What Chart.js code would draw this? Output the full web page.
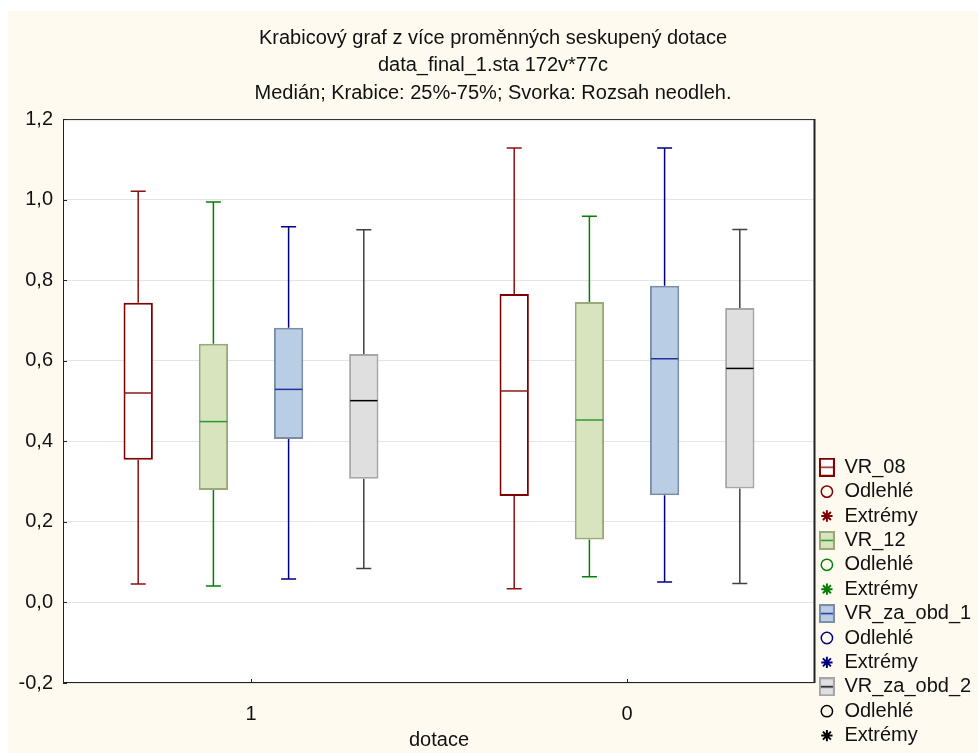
<!DOCTYPE html>
<html>
<head>
<meta charset="utf-8">
<script src="https://cdn.jsdelivr.net/npm/chart.js@4.4.1/dist/chart.umd.min.js"></script>
<style>
  html, body { margin: 0; padding: 0; background: #fff; }
  #wrap { width: 978px; height: 753px; }
</style>
</head>
<body>
<div id="wrap"><canvas id="chart" width="978" height="753"></canvas></div>
<script>
const groups = ['1', '0'];
const seriesNames = ['VR_08', 'VR_12', 'VR_za_obd_1', 'VR_za_obd_2'];
// per group: [min, q1, median, q3, max]
const vr08 = [[0.046, 0.354, 0.520, 0.744, 1.021], [0.034, 0.264, 0.525, 0.766, 1.128]];
const vr12 = [[0.041, 0.279, 0.449, 0.642, 0.994], [0.064, 0.156, 0.453, 0.746, 0.959]];
const vrObd1 = [[0.058, 0.406, 0.529, 0.682, 0.933], [0.051, 0.266, 0.605, 0.786, 1.128]];
const vrObd2 = [[0.084, 0.307, 0.501, 0.617, 0.925], [0.047, 0.283, 0.581, 0.731, 0.926]];
const yTicks = [-0.2, 0, 0.2, 0.4, 0.6, 0.8, 1.0, 1.2];
const outlierLabel = 'Odlehlé';
const extremeLabel = 'Extrémy';

const FONT = "'Liberation Sans', Arial, sans-serif";
const boxFill = ['#ffffff', '#d7e4bd', '#b9cde5', '#dfdfdf'];
const boxLine = ['#800000', '#9aa97c', '#7b8ca6', '#a6a6a6'];
const medianLine = ['#8b1a1a', '#2e9a2e', '#27329a', '#000000'];
const whiskerLine = ['#8b1010', '#008000', '#000080', '#404040'];
const markColor = ['#800000', '#008000', '#000080', '#000000'];

const allStats = [vr08, vr12, vrObd1, vrObd2];

// small box icon for the legend
function boxIcon(fill, border, line) {
  const c = document.createElement('canvas');
  c.width = 16; c.height = 19;
  const g = c.getContext('2d');
  g.fillStyle = fill;
  g.fillRect(1, 1, 14, 17);
  g.strokeStyle = border;
  g.lineWidth = 2;
  g.strokeRect(1, 1, 14, 17);
  g.strokeStyle = line;
  g.lineWidth = 1.5;
  g.beginPath(); g.moveTo(2, 9.5); g.lineTo(14, 9.5); g.stroke();
  return c;
}

const boxPlot = {
  id: 'boxPlot',
  beforeDraw(chart) {
    const { ctx, chartArea: a } = chart;
    ctx.save();
    ctx.fillStyle = '#ffffff';
    ctx.fillRect(0, 0, chart.width, chart.height);
    ctx.fillStyle = '#fffaf0';
    ctx.fillRect(8, 11, chart.width - 8, chart.height - 11);
    ctx.fillStyle = '#ffffff';
    ctx.fillRect(a.left, a.top, a.right - a.left, a.bottom - a.top);
    ctx.restore();
  },
  beforeDatasetsDraw(chart) {
    const { ctx } = chart;
    const y = chart.scales.y;
    chart.data.datasets.forEach((ds, di) => {
      chart.getDatasetMeta(di).data.forEach((bar, i) => {
        const [min, q1, med, q3, max] = allStats[di][i];
        const yMin = y.getPixelForValue(min), yMax = y.getPixelForValue(max);
        ctx.save();
        ctx.strokeStyle = whiskerLine[di];
        ctx.lineWidth = 1.5;
        ctx.beginPath();
        ctx.moveTo(bar.x, y.getPixelForValue(q3)); ctx.lineTo(bar.x, yMax);
        ctx.moveTo(bar.x, y.getPixelForValue(q1)); ctx.lineTo(bar.x, yMin);
        ctx.moveTo(bar.x - 7.5, yMax); ctx.lineTo(bar.x + 7.5, yMax);
        ctx.moveTo(bar.x - 7.5, yMin); ctx.lineTo(bar.x + 7.5, yMin);
        ctx.stroke();
        ctx.restore();
      });
    });
  },
  afterDatasetsDraw(chart) {
    const { ctx, chartArea: a } = chart;
    const y = chart.scales.y, x = chart.scales.x;
    chart.data.datasets.forEach((ds, di) => {
      chart.getDatasetMeta(di).data.forEach((bar, i) => {
        const ym = y.getPixelForValue(allStats[di][i][2]);
        const half = bar.width / 2 - 1;
        ctx.save();
        ctx.strokeStyle = medianLine[di];
        ctx.lineWidth = 1.5;
        ctx.beginPath();
        ctx.moveTo(bar.x - half, ym); ctx.lineTo(bar.x + half, ym);
        ctx.stroke();
        ctx.restore();
      });
    });
    // frame and inside ticks
    ctx.save();
    ctx.strokeStyle = '#222';
    ctx.lineWidth = 1;
    ctx.strokeRect(a.left + 0.5, a.top + 0.5, a.right - a.left - 1, a.bottom - a.top - 1);
    ctx.beginPath();
    ctx.moveTo(a.right - 0.5, a.top); ctx.lineTo(a.right - 0.5, a.bottom);
    ctx.lineWidth = 2;
    ctx.stroke();
    ctx.lineWidth = 1;
    ctx.beginPath();
    yTicks.forEach(v => {
      const py = Math.round(y.getPixelForValue(v)) + 0.5;
      ctx.moveTo(a.left, py); ctx.lineTo(a.left + 4, py);
    });
    groups.forEach((g, i) => {
      const px = Math.round(x.getPixelForValue(i)) + 0.5;
      ctx.moveTo(px, a.bottom); ctx.lineTo(px, a.bottom - 4);
    });
    ctx.stroke();
    ctx.restore();
  }
};

const datasets = seriesNames.map((name, di) => ({
  label: name,
  data: allStats[di].map(s => [s[1], s[3]]),
  backgroundColor: boxFill[di],
  borderColor: boxLine[di],
  borderWidth: 2,
  borderSkipped: false,
  categoryPercentage: 0.8,
  barPercentage: 0.39
}));

function legendItems() {
  const items = [];
  seriesNames.forEach((name, di) => {
    items.push({ text: name, pointStyle: boxIcon(boxFill[di], boxLine[di], medianLine[di]),
      fillStyle: boxFill[di], strokeStyle: boxLine[di], lineWidth: 1, fontColor: '#111', hidden: false, datasetIndex: di });
    items.push({ text: outlierLabel, pointStyle: 'circle', fillStyle: 'rgba(0,0,0,0)',
      strokeStyle: markColor[di], lineWidth: 1.5, fontColor: '#111', hidden: false, datasetIndex: di });
    items.push({ text: extremeLabel, pointStyle: 'star', fillStyle: markColor[di],
      strokeStyle: markColor[di], lineWidth: 2, fontColor: '#111', hidden: false, datasetIndex: di });
  });
  return items;
}

new Chart(document.getElementById('chart'), {
  type: 'bar',
  data: { labels: groups, datasets: datasets },
  options: {
    responsive: false,
    devicePixelRatio: 1,
    animation: false,
    layout: { padding: { left: 8, top: 11, right: 0, bottom: 3 } },
    plugins: {
      tooltip: { enabled: false },
      title: {
        display: true,
        text: ['Krabicový graf z více proměnných seskupený dotace',
               'data_final_1.sta 172v*77c',
               'Medián; Krabice: 25%-75%; Svorka: Rozsah neodleh.'],
        color: '#111',
        font: { family: FONT, size: 20, weight: 'normal', lineHeight: 1.36 },
        padding: { top: 14, bottom: 12.5 }
      },
      legend: {
        position: 'right',
        align: 'end',
        maxWidth: 163,
        labels: {
          usePointStyle: true,
          boxWidth: 15,
          boxHeight: 8,
          padding: 4.4,
          color: '#111',
          font: { family: FONT, size: 20 },
          generateLabels: legendItems
        }
      }
    },
    scales: {
      x: {
        grid: { display: false },
        border: { display: false },
        ticks: { color: '#111', font: { family: FONT, size: 20 }, padding: 11 },
        title: { display: true, text: 'dotace', color: '#111',
                 font: { family: FONT, size: 20, lineHeight: 1 }, padding: { top: 0, bottom: 0 } },
        afterFit: s => { s.height = 67; }
      },
      y: {
        min: -0.2,
        max: 1.2,
        afterBuildTicks: s => { s.ticks = yTicks.map(v => ({ value: v })); },
        grid: { color: '#e4e4e4', drawTicks: false },
        border: { display: false },
        ticks: { color: '#111', font: { family: FONT, size: 20 }, padding: 10,
                 callback: v => v.toFixed(1).replace('.', ',') },
        afterFit: s => { s.width = 55; }
      }
    }
  },
  plugins: [boxPlot]
});
</script>
</body>
</html>
